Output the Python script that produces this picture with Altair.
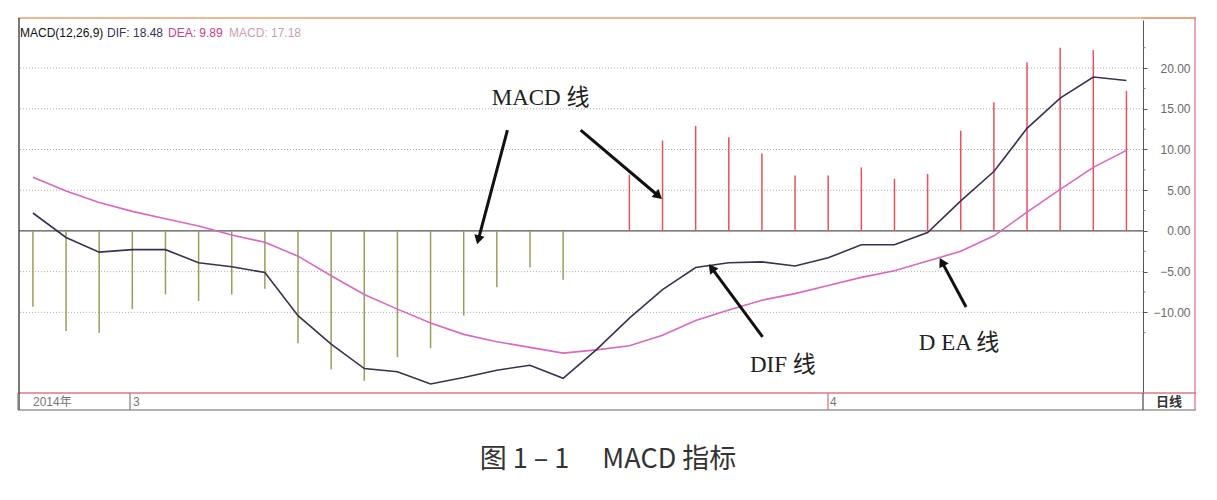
import math
import altair as alt
import pandas as pd

# ---- data ----
dif_values = [2.2, -0.8, -2.6, -2.3, -2.3, -3.9, -4.4, -5.1, -10.4, -13.9, -16.9, -17.3,
              -18.8, -18.0, -17.1, -16.5, -18.1, -14.6, -10.7, -7.2, -4.5, -3.9, -3.8, -4.3,
              -3.3, -1.7, -1.7, -0.2, 3.7, 7.3, 12.6, 16.3, 18.9, 18.48]
dea_values = [6.6, 4.9, 3.5, 2.4, 1.5, 0.6, -0.5, -1.4, -3.1, -5.5, -7.8, -9.6,
              -11.3, -12.7, -13.6, -14.3, -15.0, -14.6, -14.1, -12.8, -11.0, -9.7, -8.5, -7.7,
              -6.7, -5.7, -4.9, -3.7, -2.5, -0.6, 2.3, 5.1, 7.8, 9.89]
macd_values = [-9.3, -12.3, -12.5, -9.6, -7.8, -8.6, -7.8, -7.1, -13.8, -17.0, -18.4, -15.5,
               -14.4, -10.4, -6.9, -4.5, -6.0, 0.0, 6.9, 11.1, 12.9, 11.5, 9.5, 6.8,
               6.8, 7.8, 6.4, 7.0, 12.3, 15.8, 20.7, 22.5, 22.2, 17.18]
axis_values = [-10, -5, 0, 5, 10, 15, 20]
grid_values = [-10, -5, 5, 10, 15, 20]
minor_values = [-12.5, -7.5, -2.5, 2.5, 7.5, 12.5, 17.5, 22.5]

ann_texts = ["MACD 线", "DIF 线", "D EA 线"]
ann_text_x = [15.32, 22.63, 27.95]
ann_text_y = [16.32, -16.44, -13.74]
arrow_tail_x = [14.32, 16.53, 22.02, 28.16]
arrow_tail_y = [12.39, 12.39, -13.0, -9.33]
arrow_tip_x = [13.44, 18.88, 20.48, 27.43]
arrow_tip_y = [-1.10, 4.29, -4.54, -3.80]

legend_parts = ["MACD(12,26,9)", "DIF: 18.48", "DEA: 9.89", "MACD: 17.18"]
legend_colors = ["#111111", "#3a3058", "#c8408a", "#c8a0b4"]
legend_px = [1, 88, 149, 210]

# ---- layout ----
W, H = 1124, 373
XD = [-0.42, 33.5]
YD = [-19.9, 25.9]
px_x = W / (XD[1] - XD[0])
px_y = H / (YD[1] - YD[0])

n = len(macd_values)
df = pd.DataFrame({
    "idx": list(range(n)),
    "dif": dif_values,
    "dea": dea_values,
    "macd": macd_values,
    "zero": [0.0] * n,
    "pos": ["up" if v >= 0 else "down" for v in macd_values],
})

xs = alt.Scale(domain=XD, nice=False, zero=False)
ys = alt.Scale(domain=YD, nice=False, zero=False)
AX = alt.Axis(orient="right", values=axis_values, format=".2f", title=None,
              grid=False, labelColor="#6a6a6a", labelFont="Liberation Sans",
              labelFontSize=12, labelAlign="right", labelPadding=43,
              tickSize=4, tickColor="#555555", domainColor="#555555",
              labelBaseline="middle")
X = lambda f: alt.X(f, type="quantitative", scale=xs, axis=None)
Yn = lambda f: alt.Y(f, type="quantitative", scale=ys, axis=AX)

base = alt.Chart(df)

grid = alt.Chart(pd.DataFrame({"v": grid_values})).mark_rule(
    color="#b0b0b0", strokeDash=[1, 2], strokeWidth=1
).encode(y=Yn("v"))

zero_line = alt.Chart(pd.DataFrame({"v": [0]})).mark_rule(
    color="#555555", strokeWidth=1.2
).encode(y=Yn("v"))

minor = alt.Chart(pd.DataFrame({"v": minor_values})).mark_rule(
    color="#777777", strokeWidth=1
).encode(x=alt.value(W), x2=alt.value(W + 2.5), y=Yn("v"))

bars = base.mark_rule(strokeWidth=1.5).encode(
    x=X("idx"),
    y=Yn("zero"),
    y2="macd:Q",
    color=alt.Color("pos:N", scale=alt.Scale(domain=["up", "down"], range=["#e8505c", "#9c9c5a"]),
                    legend=None),
)

dea_line = base.mark_line(color="#d868c0", strokeWidth=1.6).encode(x=X("idx"), y=Yn("dea"))
dif_line = base.mark_line(color="#3a3050", strokeWidth=1.6).encode(x=X("idx"), y=Yn("dif"))

# arrows
angles = []
for tx, ty, hx, hy in zip(arrow_tail_x, arrow_tail_y, arrow_tip_x, arrow_tip_y):
    dx = (hx - tx) * px_x
    dy = -(hy - ty) * px_y
    angles.append(math.degrees(math.atan2(dx, -dy)) % 360)
arr = pd.DataFrame({"tx": arrow_tail_x, "ty": arrow_tail_y, "hx": arrow_tip_x,
                    "hy": arrow_tip_y, "ang": angles})
arrow_lines = alt.Chart(arr).mark_rule(color="#111111", strokeWidth=3).encode(
    x=X("tx"), y=Yn("ty"), x2="hx:Q", y2="hy:Q")
arrow_heads = alt.Chart(arr).mark_point(shape="triangle-up", filled=True, color="#111111",
                                        size=110, opacity=1).encode(
    x=X("hx"), y=Yn("hy"), angle=alt.Angle("ang:Q", scale=None))

ann = alt.Chart(pd.DataFrame({"t": ann_texts, "x": ann_text_x, "y": ann_text_y})).mark_text(
    font="Liberation Serif, Noto Sans CJK SC", fontSize=23, color="#222222",
    align="center", baseline="middle"
).encode(x=X("x"), y=Yn("y"), text="t:N")

legend = alt.Chart(pd.DataFrame({"t": legend_parts, "c": legend_colors, "px": legend_px})).mark_text(
    font="Liberation Sans", fontSize=12, align="left", baseline="middle"
).encode(x=alt.X("px:Q", scale=None), y=alt.value(13), text="t:N",
         color=alt.Color("c:N", scale=None))

# frame pieces
frame_h = pd.DataFrame({"x": [-1, W, -1, -1], "x2": [W + 53, W + 53, W + 53, W + 53],
                        "y": [-2, -2, H, H + 17], "c": ["#e8a070", "#e8a070", "#d87888", "#999999"]})
frame_h_m = alt.Chart(frame_h).mark_rule(strokeWidth=1.3).encode(
    x=alt.X("x:Q", scale=None), x2="x2:Q", y=alt.Y("y:Q", scale=None),
    color=alt.Color("c:N", scale=None))
frame_v = pd.DataFrame({"x": [0, 111, 809, W + 52, -1],
                        "y": [-2, H, H, -2, H], "y2": [H + 17, H + 17, H + 17, H + 17, H + 17],
                        "c": ["#333333", "#888888", "#d87888", "#d87888", "#888888"]})
frame_v_m = alt.Chart(frame_v).mark_rule(strokeWidth=1.3).encode(
    x=alt.X("x:Q", scale=None), y=alt.Y("y:Q", scale=None), y2="y2:Q",
    color=alt.Color("c:N", scale=None))
frame_box = alt.Chart(pd.DataFrame({"x": [W], "y": [H], "y2": [H + 17]})).mark_rule(
    color="#555555", strokeWidth=1.3).encode(
    x=alt.X("x:Q", scale=None), y=alt.Y("y:Q", scale=None), y2="y2:Q")

bottom_labels = alt.Chart(pd.DataFrame({"t": ["2014年", "3", "4"], "px": [14, 114, 811]})).mark_text(
    font="Liberation Sans, Noto Sans CJK SC", fontSize=12, color="#777777",
    align="left", baseline="middle"
).encode(x=alt.X("px:Q", scale=None), y=alt.value(H + 9), text="t:N")

rixian = alt.Chart(pd.DataFrame({"t": ["日线"]})).mark_text(
    font="Noto Sans CJK SC", fontSize=13, fontWeight="bold", color="#333333",
    align="center", baseline="middle"
).encode(x=alt.value(W + 26), y=alt.value(H + 9), text="t:N")

title = alt.Chart(pd.DataFrame({"t": ["图 1 – 1\u3000 MACD 指标"]})).mark_text(
    font="Noto Sans CJK SC", fontSize=27, color="#333333", align="center", baseline="middle"
).encode(x=alt.value(589), y=alt.value(440), text="t:N")

chart = alt.layer(
    grid, zero_line, minor, bars, dea_line, dif_line, arrow_lines, arrow_heads, ann,
    legend, frame_h_m, frame_v_m, frame_box, bottom_labels, rixian, title
).properties(
    width=W, height=H,
    autosize=alt.AutoSizeParams(type="none"),
    padding={"left": 19, "top": 20, "right": 74, "bottom": 107},
    background="white",
).configure_view(stroke=None)

chart.save("out.html", embed_options={"renderer": "svg", "actions": False})
